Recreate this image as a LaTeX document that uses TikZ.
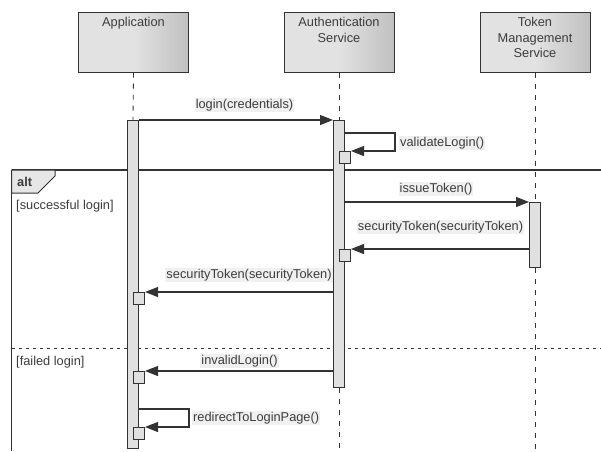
\documentclass[tikz,border=0pt]{standalone}
\usepackage{fontspec}
\setmainfont{Liberation Sans}
\usetikzlibrary{arrows.meta}
\definecolor{ink}{HTML}{333333}
\definecolor{txt}{HTML}{3C3C3C}
\definecolor{headlight}{HTML}{E2E2E2}
\definecolor{headdark}{HTML}{C0C0C0}
\definecolor{barfill}{HTML}{E0E0E0}
\definecolor{labelbg}{HTML}{F0F0F0}
\definecolor{tabfill}{HTML}{E6E6E6}
\tikzset{
  every node/.style={font=\fontsize{12.8}{15.5}\selectfont, text=txt},
  head/.style={draw=ink, line width=1pt, minimum width=110, minimum height=60, inner sep=0,
    path picture={
      \fill[headlight] (path picture bounding box.south west) rectangle (path picture bounding box.north);
      \shade[left color=headlight, right color=headdark] (path picture bounding box.south) rectangle (path picture bounding box.north east);
    }},
  headtext/.style={anchor=north, align=center, inner sep=0},
  lifeline/.style={draw=ink, line width=0.9pt, dash pattern=on 5pt off 6pt},
  bar/.style={draw=ink, fill=barfill, line width=1pt, minimum width=11, inner sep=0, anchor=north},
  execbox/.style={draw=ink, fill=barfill, line width=1pt, minimum width=11, minimum height=12, inner sep=0, anchor=north},
  msg/.style={draw=ink, line width=1.1pt, -{Triangle[length=13pt,width=10pt]}},
  msglabel/.style={fill=labelbg, inner sep=1pt},
  guard/.style={anchor=west, inner sep=0},
}
\begin{document}
\begin{tikzpicture}[x=1pt,y=-1pt]
\useasboundingbox (0,0) rectangle (601,451);

% lifeline heads
\node[head] (app) at (133.5,42) {};
\node[head] (auth) at (339,42) {};
\node[head] (tok) at (535,42) {};
\node[headtext] (appt) at (133.5,17.5) {Application};
\node[headtext] (autht) at (339,17.5) {Authentication\\Service};
\node[headtext] (tokt) at (535,17.5) {Token\\Management\\Service};

% activation bars (positions only; drawn later)
\path node[bar, minimum height=328, draw=none, fill=none] (appbar) at (133,120) {};
\path node[bar, minimum height=267, draw=none, fill=none] (authbar) at (339,120) {};
\path node[bar, minimum height=65, draw=none, fill=none] (tokbar) at (535,202) {};

% lifelines
\draw[lifeline] (app.south) -- (appbar.north);
\draw[lifeline] (auth.south) -- (authbar.north);
\coordinate (authend) at (339,451);
\draw[lifeline] (authbar.south) -- (authend);
\draw[lifeline] (tok.south) -- (tokbar.north);
\coordinate (tokend) at (535,451);
\draw[lifeline] (tokbar.south) -- (tokend);

% alt combined fragment
\coordinate (fragtr) at (601,170);
\coordinate (fragtl) at (11.5,170);
\coordinate (fragbl) at (11.5,451);
\draw[ink, line width=1.3pt] (fragtr) -- (fragtl);
\draw[ink, line width=1pt] (fragtl) -- (fragbl);
\draw[ink, line width=1pt, fill=tabfill] (fragtl) -- (55,170) -- (55,176) -- (38,193) -- (11.5,193) -- cycle;
\node[guard, font=\fontsize{12.8}{15.5}\selectfont\bfseries] (altlbl) at (17,182) {alt};
\node[guard] (g1) at (16,206) {[successful login]};
\coordinate (sepl) at (11.5,348);
\coordinate (sepr) at (601,348);
\draw[ink, line width=0.9pt, dash pattern=on 3pt off 4pt] (sepl) -- (sepr);
\node[guard] (g2) at (16,362) {[failed login]};

% activation bars
\node[bar, minimum height=328] (appbar) at (133,120) {};
\node[bar, minimum height=267] (authbar) at (339,120) {};
\node[bar, minimum height=65] (tokbar) at (535,202) {};

% nested executions
\node[execbox] (ex1) at (authbar.east |- 0,151) {};
\node[execbox] (ex2) at (authbar.east |- 0,249) {};
\node[execbox] (ex3) at (appbar.east |- 0,292) {};
\node[execbox] (ex4) at (appbar.east |- 0,371) {};
\node[execbox] (ex5) at (appbar.east |- 0,427) {};

% messages
\draw[msg] (appbar.north east) -- (authbar.north west);
\node[msglabel] (m1) at (244.5,105) {login(credentials)};

\coordinate (v1) at (395,133);
\coordinate (v2) at (395,151);
\draw[msg] (authbar.east |- v1) -- (v1) -- (v2) -- (ex1.north east);
\node[msglabel, anchor=west] (m2) at (399,143) {validateLogin()};

\draw[msg] (authbar.east |- tokbar.north) -- (tokbar.north west);
\node[msglabel] (m3) at (436,189) {issueToken()};

\draw[msg] (tokbar.west |- ex2.north) -- (ex2.north east);
\node[msglabel] (m4) at (440.5,227) {securityToken(securityToken)};

\draw[msg] (authbar.west |- ex3.north) -- (ex3.north east);
\node[msglabel] (m5) at (249,275) {securityToken(securityToken)};

\draw[msg] (authbar.west |- ex4.north) -- (ex4.north east);
\node[msglabel] (m6) at (239.5,361) {invalidLogin()};

\coordinate (r1) at (189,409);
\coordinate (r2) at (189,427);
\draw[msg] (appbar.east |- r1) -- (r1) -- (r2) -- (ex5.north east);
\node[msglabel, anchor=west] (m7) at (192,418) {redirectToLoginPage()};
\end{tikzpicture}
\end{document}
